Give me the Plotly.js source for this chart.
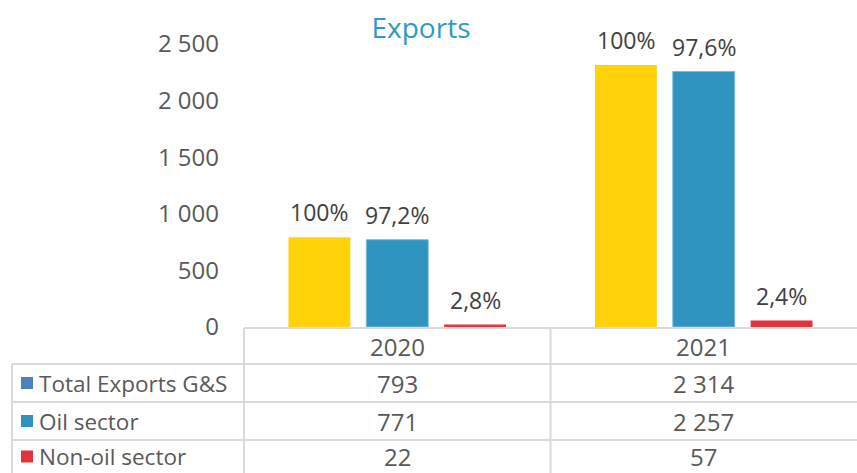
<!DOCTYPE html>
<html>
<head>
<meta charset="utf-8">
<script src="https://cdn.plot.ly/plotly-3.0.1.min.js"></script>
<style>html,body{margin:0;padding:0;background:#fff;}#chart{width:857px;height:473px;}</style>
</head>
<body>
<div id="chart"></div>
<script>
// ---- data ----
const years = ['2020', '2021'];
const seriesNames = ['Total Exports G&S', 'Oil sector', 'Non-oil sector'];
const totalExports = [793, 2314];
const oilSector = [771, 2257];
const nonOilSector = [22, 57];
const totalShare = ['100%', '100%'];
const oilShare = ['97,2%', '97,6%'];
const nonOilShare = ['2,8%', '2,4%'];
const tableValues = [
  ['793', '2 314'],
  ['771', '2 257'],
  ['22', '57']
];
const barColors = ['#FFD20A', '#2E93BE', '#E0353D'];
const barEdge = ['#FFD20A', '#7DBBD8', '#E0353D'];
const legendKeyColors = ['#4F81BD', '#2E93BE', '#E0353D'];

// ---- layout helpers ----
const W = 857, H = 473;
const mL = 244, mR = 0, mT = 44, mB = 146;
const plotH = H - mT - mB;
const plotW = W - mL - mR;
const yp = py => (H - mB - py) / plotH;      // pixel y -> paper y
const xp = px => (px - mL) / plotW;          // pixel x -> paper x
const bargap = 0.238, bargroupgap = 0.205;
const slot = (1 - bargap) / 3;               // width of one bar slot in category units

const font = "'Open Sans', 'DejaVu Sans', sans-serif";
const labelFont = {family: font, size: 23, color: '#404040'};
const tableFont = {family: font, size: 22.5, color: '#595959'};
const numFont = {family: font, size: 24, color: '#595959'};

const series = [
  {y: totalExports, text: totalShare},
  {y: oilSector, text: oilShare},
  {y: nonOilSector, text: nonOilShare}
];
const traces = series.map((s, i) => ({
  type: 'bar',
  x: years,
  y: s.y,
  name: seriesNames[i],
  marker: {color: barColors[i], line: {width: i === 1 ? 1 : 0, color: barEdge[i]}},
  hoverinfo: 'skip',
  showlegend: false
}));

const annotations = [];
// data labels above bars
series.forEach((s, i) => {
  s.y.forEach((v, c) => annotations.push({
    x: c + (i - 1) * slot, xref: 'x', y: v, yref: 'y', text: s.text[c], showarrow: false,
    font: labelFont, xanchor: 'center', yanchor: 'middle', yshift: 25
  }));
});

const gridColor = '#D9D9D9';
const shapes = [];
const line = (x0, y0, x1, y1, xref) => shapes.push({
  type: 'line', xref: xref || 'paper', yref: 'paper',
  x0: x0, x1: x1, y0: y0, y1: y1,
  line: {color: gridColor, width: 2}, layer: 'above'
});
// horizontal table lines
line(0, yp(328), 1, yp(328));
[364, 402, 440].forEach(py => line(xp(12), yp(py), 1, yp(py)));
// vertical table lines
line(xp(12), yp(364), xp(12), yp(480));
line(0, yp(328), 0, yp(480));
line(0.5, yp(328), 0.5, yp(480), 'x');

const rowCenters = [383, 421, 456.5];
// header row with years
years.forEach((yr, c) => annotations.push({
  x: c, xref: 'x', y: yp(346), yref: 'paper', text: yr, showarrow: false,
  font: numFont, xanchor: 'center', yanchor: 'middle'
}));
// data rows
seriesNames.forEach((nm, r) => {
  shapes.push({
    type: 'rect', xref: 'paper', yref: 'paper',
    x0: xp(21), x1: xp(33), y0: yp(rowCenters[r] - 6), y1: yp(rowCenters[r] + 6),
    fillcolor: legendKeyColors[r], line: {width: 0}
  });
  annotations.push({
    x: xp(37), xref: 'paper', y: yp(rowCenters[r]), yref: 'paper', text: nm, showarrow: false,
    font: tableFont, xanchor: 'left', yanchor: 'middle'
  });
  years.forEach((yr, c) => annotations.push({
    x: c, xref: 'x', y: yp(rowCenters[r]), yref: 'paper', text: tableValues[r][c], showarrow: false,
    font: numFont, xanchor: 'center', yanchor: 'middle'
  }));
});

const layout = {
  width: W, height: H,
  margin: {l: mL, r: mR, t: mT, b: mB, pad: 0},
  paper_bgcolor: '#fff', plot_bgcolor: '#fff',
  separators: ', ',
  title: {
    text: 'Exports', x: 421 / W, xref: 'container', xanchor: 'center',
    y: 1 - 28 / H, yref: 'container', yanchor: 'middle',
    font: {family: font, size: 28, color: '#2E9AC4'}
  },
  barmode: 'group',
  bargap: bargap,
  bargroupgap: bargroupgap,
  xaxis: {
    type: 'category', range: [-0.5, 1.5], showticklabels: false, showgrid: false,
    zeroline: false, showline: false, fixedrange: true
  },
  yaxis: {
    range: [0, 2500], tickvals: [0, 500, 1000, 1500, 2000, 2500],
    tickformat: ',d', separatethousands: true,
    showgrid: false, zeroline: false, showline: false, ticks: '',
    ticklabelstandoff: 24,
    tickfont: {family: font, size: 24, color: '#595959'}, fixedrange: true
  },
  shapes: shapes,
  annotations: annotations
};

Plotly.newPlot('chart', traces, layout, {displayModeBar: false, staticPlot: true});
</script>
</body>
</html>
